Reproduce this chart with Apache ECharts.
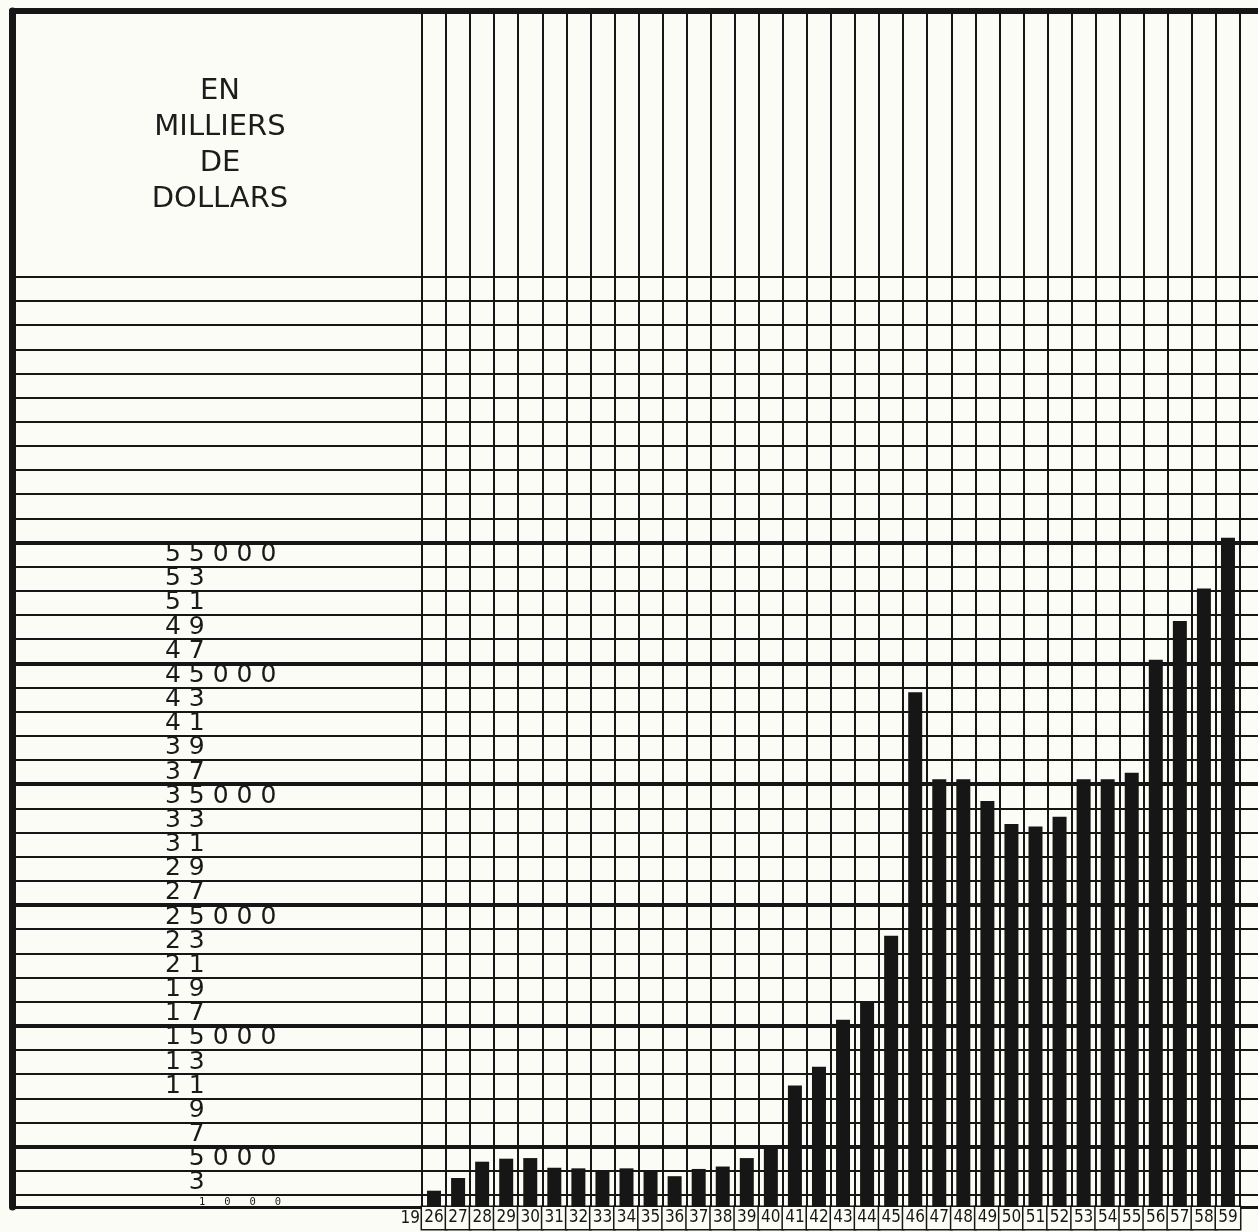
<!DOCTYPE html>
<html>
<head>
<meta charset="utf-8">
<script src="https://cdn.jsdelivr.net/npm/echarts@6/dist/echarts.min.js"></script>
<style>
  html, body { margin: 0; padding: 0; background: #fcfcf7; }
  #chart { width: 1258px; height: 1232px; }
</style>
</head>
<body>
<div id="chart"></div>
<script>
// ---- data ----
const years = ['1926','1927','1928','1929','1930','1931','1932','1933','1934','1935',
               '1936','1937','1938','1939','1940','1941','1942','1943','1944','1945',
               '1946','1947','1948','1949','1950','1951','1952','1953','1954','1955',
               '1956','1957','1958','1959'];
const amounts = [1350, 2400, 3750, 4000, 4050, 3250, 3200, 2950, 3200, 2950,
                 2550, 3150, 3350, 4050, 5100, 10050, 11600, 15500, 16900, 22450,
                 42600, 35400, 35400, 33600, 31700, 31500, 32300, 35400, 35400, 35950,
                 45300, 48500, 51200, 55400];
// tick labels (value of the line they hang under, text as written)
const tickValues = [55000, 53000, 51000, 49000, 47000, 45000, 43000, 41000, 39000, 37000,
                    35000, 33000, 31000, 29000, 27000, 25000, 23000, 21000, 19000, 17000,
                    15000, 13000, 11000, 9000, 7000, 5000, 3000, 1000];
const tickTexts = ['55000','53','51','49','47','45000','43','41','39','37',
                   '35000','33','31','29','27','25000','23','21','19','17',
                   '15000','13','11','9','7','5000','3','1000'];
// ruled lines of the paper (values)
const ruleValues = [1000, 3000, 5000, 7000, 9000, 11000, 13000, 15000, 17000, 19000,
                    21000, 23000, 25000, 27000, 29000, 31000, 33000, 35000, 37000, 39000,
                    41000, 43000, 45000, 47000, 49000, 51000, 53000, 55000, 57000, 59000,
                    61000, 63000, 65000, 67000, 69000, 71000, 73000, 75000, 77000];
const heavyRules = [5000, 15000, 25000, 35000, 45000, 55000];
const titleLines = ['EN', 'MILLIERS', 'DE', 'DOLLARS'];

// ---- build ----
const INK = '#161616';
const PAPER = '#fcfcf7';
const Y_MAX = 99000;

function spaced(t) {
  const s = t.split('').join(' ');
  return (t.length === 1 || t.length === 4) ? '   ' + s : s;
}

const ruleData = ruleValues.map(v => ({
  yAxis: v,
  lineStyle: { color: INK, width: heavyRules.indexOf(v) >= 0 ? 4 : 2, type: 'solid' }
}));

const markLineCfg = {
  silent: true,
  symbol: ['none', 'none'],
  label: { show: false },
  emphasis: { disabled: true },
  animation: false,
  data: ruleData
};

function plainX(gridIndex, position, width) {
  return { gridIndex: gridIndex, type: 'value', min: 0, max: 1, position: position,
    axisLine: { show: true, onZero: false, lineStyle: { color: INK, width: width } },
    axisTick: { show: false }, axisLabel: { show: false }, splitLine: { show: false } };
}
function hiddenY(gridIndex, lineWidth) {
  return { gridIndex: gridIndex, type: 'value', min: 0, max: Y_MAX, interval: 2000, position: 'left',
    axisLine: { show: lineWidth > 0, onZero: false, lineStyle: { color: INK, width: lineWidth || 1 } },
    axisTick: { show: false }, splitLine: { show: false }, axisLabel: { show: false } };
}

const chart = echarts.init(document.getElementById('chart'), null, { renderer: 'canvas' });

const option = {
  backgroundColor: PAPER,
  animation: false,
  grid: [
    { left: 12, top: 11, width: 410, bottom: 25 },   // left panel (scale labels)
    { left: 422, top: 11, width: 818, bottom: 25 },  // plot, one cell per year
    { left: 1240, top: 11, right: 0, bottom: 25 }    // paper continuing to the edge
  ],
  xAxis: [
    plainX(0, 'bottom', 3),
    plainX(0, 'top', 6),
    { gridIndex: 1, type: 'category', data: years, boundaryGap: true, position: 'bottom',
      axisLine: { show: true, onZero: false, lineStyle: { color: INK, width: 3 } },
      axisTick: { show: false },
      splitLine: { show: true, interval: 0, lineStyle: { color: INK, width: 2 } },
      axisLabel: {
        interval: 0, margin: 0,
        formatter: v => v.slice(2),
        fontFamily: 'DejaVu Sans Condensed, Liberation Sans Narrow, sans-serif',
        fontSize: 17, color: '#161616',
        width: 24, height: 22, lineHeight: 22, align: 'center', verticalAlign: 'top',
        borderColor: INK, borderWidth: 1.5, backgroundColor: PAPER
      } },
    plainX(1, 'top', 6),
    plainX(2, 'top', 6),
    plainX(2, 'bottom', 3)
  ],
  yAxis: [
    { gridIndex: 0, type: 'value', min: 0, max: Y_MAX, interval: 2000, position: 'left',
      axisLine: { show: true, onZero: false, lineStyle: { color: INK, width: 7 } },
      axisTick: { show: false }, splitLine: { show: false },
      axisLabel: {
        inside: true, margin: 153, align: 'left', showMaxLabel: false,
        fontFamily: 'DejaVu Sans, sans-serif',
        fontSize: 25, color: '#1a1a1a',
        formatter: function (v) {
          const i = tickValues.indexOf(v + 1000);
          if (i < 0) return '';
          if (v === 0) return '{sp| }{small|' + tickTexts[i].split('').join('   ') + '}';
          return spaced(tickTexts[i]);
        },
        rich: {
          sp: { width: 34, fontSize: 10 },
          small: { fontSize: 10.5, fontFamily: 'DejaVu Sans Mono, monospace', color: '#1a1a1a', padding: [0, 0, 9, 0] }
        }
      } },
    hiddenY(1, 2),
    hiddenY(2, 0)
  ],
  series: [
    { type: 'line', xAxisIndex: 0, yAxisIndex: 0, data: [[0, 0]], symbol: 'none',
      lineStyle: { width: 0 }, silent: true, markLine: markLineCfg },
    { type: 'bar', xAxisIndex: 2, yAxisIndex: 1, data: amounts, barWidth: 14,
      itemStyle: { color: INK }, silent: true, markLine: markLineCfg },
    { type: 'line', xAxisIndex: 4, yAxisIndex: 2, data: [[0, 0]], symbol: 'none',
      lineStyle: { width: 0 }, silent: true, markLine: markLineCfg }
  ],
  graphic: [
    { type: 'text', x: 220, y: 73, silent: true,
      style: { text: titleLines.join('\n'), textAlign: 'center', fill: '#1c1c1c',
               font: '29px "DejaVu Sans", sans-serif', lineHeight: 36 } },
    { type: 'text', x: 420, y: 1219, silent: true,
      style: { text: years[0].slice(0, 2), textAlign: 'right', textVerticalAlign: 'middle', fill: '#161616',
               font: '17px "DejaVu Sans Condensed", sans-serif' } }
  ]
};
chart.setOption(option);
</script>
</body>
</html>
